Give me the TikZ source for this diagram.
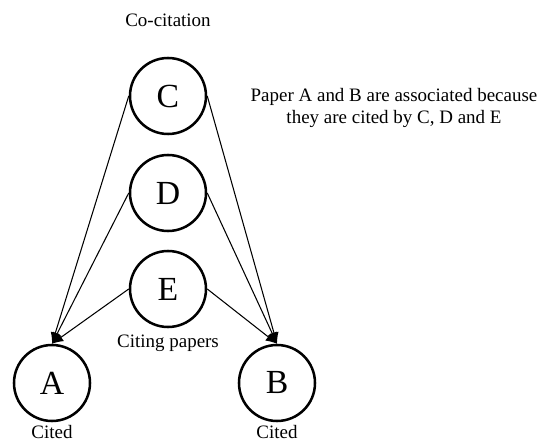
\documentclass[tikz,border=0pt]{standalone}
\usepackage{fontspec}
\setmainfont{Liberation Serif}
\usetikzlibrary{arrows.meta}

\tikzset{
  paper/.style={draw, circle, line width=1.8pt, minimum size=1.9cm, inner sep=0pt,
    font=\fontsize{24}{28}\selectfont},
  caption/.style={font=\fontsize{13.5}{16}\selectfont, align=center},
  cites/.style={-{Latex[length=2.8mm,width=2.4mm]}, line width=0.75pt}
}

\begin{document}
\begin{tikzpicture}
\useasboundingbox (0,0) rectangle (13.625,-11.125);
\node[caption] (title) at (4.2,-0.5) {Co-citation};
\node[paper] (C) at (4.2,-2.4) {C};
\node[paper] (D) at (4.2,-4.825) {D};
\node[paper] (E) at (4.2,-7.225) {E};
\node[paper] (A) at (1.3,-9.575) {A};
\node[paper] (B) at (6.925,-9.575) {B};
\node[caption] (citing) at (4.2,-8.575) {Citing papers};
\node[caption, anchor=north, inner sep=1pt] (citedA) at (1.3,-10.6) {Cited};
\node[caption, anchor=north, inner sep=1pt] (citedB) at (6.925,-10.6) {Cited};
\node[caption] (note) at (9.85,-2.7)
  {Paper A and B are associated because\\they are cited by C, D and E};
\draw[cites] (C.west) -- (A.north);
\draw[cites] (C.east) -- (B.north);
\draw[cites] (D.west) -- (A.north);
\draw[cites] (D.east) -- (B.north);
\draw[cites] (E.west) -- (A.north);
\draw[cites] (E.east) -- (B.north);
\end{tikzpicture}
\end{document}
